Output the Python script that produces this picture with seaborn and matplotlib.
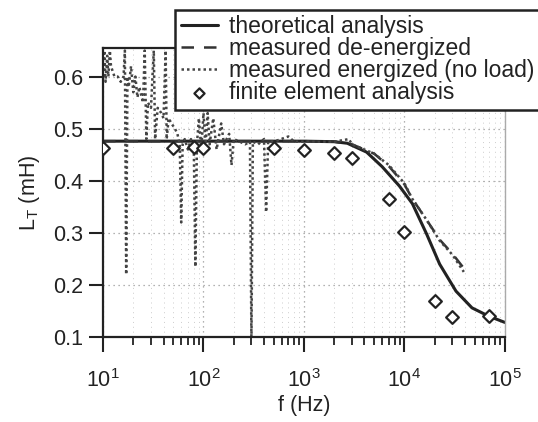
import numpy as np
import pandas as pd
import matplotlib
matplotlib.use("Agg")
import matplotlib.pyplot as plt
from matplotlib.ticker import LogLocator, FixedLocator, NullFormatter
import seaborn as sns

# --- theoretical analysis (solid) ---
f_theory = [10, 100, 1000, 2000, 2700, 4200, 6000, 8900, 12000, 16600,
            22400, 32600, 47000, 69000, 100000]
L_theory = [0.476, 0.476, 0.476, 0.475, 0.472, 0.455, 0.427, 0.39, 0.356, 0.298,
            0.24, 0.188, 0.156, 0.14, 0.128]

# --- measured de-energized (dashed) ---
f_deen = [10, 100, 1000, 2000, 3000, 5000, 7000, 10000, 12000, 16600,
          22400, 30000, 39000]
L_deen = [0.476, 0.476, 0.476, 0.475, 0.47, 0.452, 0.428, 0.393, 0.365, 0.325,
          0.287, 0.26, 0.232]

# --- measured energized, no load (dotted, noisy) ---
f_en = [10, 10.3, 10.6, 11, 11.3, 11.7, 12, 13, 14, 15, 16, 16.5, 17, 17.5,
        18, 19, 20, 21, 22, 23, 25, 26, 27, 28, 30, 32, 33, 35, 38, 40,
        42, 43, 45, 48, 52, 55, 58, 60, 62, 65, 70, 75, 80, 83, 86, 90,
        95, 100, 105, 110, 115, 125, 135, 150, 160, 180, 190, 200, 230, 260,
        290, 300, 310, 350, 400, 420, 440, 500, 700, 800, 1000, 2000, 2800, 3000,
        5000, 7000, 10000, 12000, 16600, 22400, 30000, 39000]
L_en = [0.60, 0.65, 0.59, 0.64, 0.60, 0.65, 0.62, 0.60, 0.60, 0.59, 0.60, 0.65, 0.22, 0.60,
        0.58, 0.62, 0.57, 0.60, 0.56, 0.58, 0.55, 0.65, 0.48, 0.55, 0.54, 0.65, 0.48, 0.54, 0.53, 0.52,
        0.65, 0.48, 0.52, 0.51, 0.50, 0.49, 0.47, 0.32, 0.47, 0.48, 0.46, 0.48, 0.47, 0.235, 0.47, 0.52,
        0.46, 0.53, 0.47, 0.53, 0.47, 0.52, 0.46, 0.51, 0.47, 0.49, 0.43, 0.48, 0.475, 0.47,
        0.475, 0.09, 0.475, 0.47, 0.48, 0.34, 0.475, 0.475, 0.485, 0.475, 0.475, 0.475, 0.48, 0.47,
        0.452, 0.43, 0.395, 0.365, 0.325, 0.285, 0.258, 0.225]

# --- finite element analysis (diamonds) ---
f_fea = [10, 50, 80, 100, 500, 1000, 2000, 3000, 7000, 10000, 20000, 30000, 70000]
L_fea = [0.463, 0.462, 0.465, 0.462, 0.463, 0.46, 0.454, 0.444, 0.365, 0.302, 0.17, 0.139, 0.14]

sns.set_theme(style="ticks")
plt.rcParams['font.family'] = ['Liberation Sans', 'DejaVu Sans']
plt.rcParams['mathtext.fontset'] = 'custom'
plt.rcParams['mathtext.rm'] = 'Liberation Sans'
plt.rcParams['mathtext.it'] = 'Liberation Sans:italic'

ink = '#222222'
fig = plt.figure(figsize=(5.38, 4.22), dpi=100)
ax = fig.add_axes([0.1915, 0.2014, 0.747, 0.685])

sns.lineplot(x=f_theory, y=L_theory, ax=ax, color=ink, lw=2.2,
             label='theoretical analysis', sort=False, estimator=None)
sns.lineplot(x=f_deen, y=L_deen, ax=ax, color='#333333', lw=1.8,
             linestyle=(0, (5, 4)), label='measured de-energized', sort=False, estimator=None)
sns.lineplot(x=f_en, y=L_en, ax=ax, color='#444444', lw=1.8,
             linestyle=(0, (1, 1.2)), label='measured energized (no load)',
             sort=False, estimator=None)
sns.scatterplot(x=f_fea, y=L_fea, ax=ax, marker='D', s=42, facecolor='white',
                edgecolor=ink, linewidth=1.6, label='finite element analysis', zorder=5)

ax.set_xscale('log')
ax.set_xlim(10, 1e5)
ax.set_ylim(0.1, 0.655)
ax.yaxis.set_major_locator(FixedLocator([0.1, 0.2, 0.3, 0.4, 0.5, 0.6]))
ax.set_yticklabels(['0.1', '0.2', '0.3', '0.4', '0.5', '0.6'])
ax.xaxis.set_major_locator(LogLocator(base=10, numticks=10))
ax.xaxis.set_minor_locator(LogLocator(base=10, subs=np.arange(2, 10), numticks=20))
ax.xaxis.set_minor_formatter(NullFormatter())

ax.grid(True, which='major', linestyle=(0, (1, 3)), color='#999999', lw=0.9)
ax.grid(True, which='minor', axis='x', linestyle=(0, (1, 4)), color='#cccccc', lw=0.7)

ax.tick_params(axis='y', which='major', direction='out', length=10, width=1.5, pad=4,
               labelsize=15.5, color=ink, labelcolor=ink)
ax.tick_params(axis='x', which='major', direction='out', length=11, width=1.5, pad=12,
               labelsize=15.5, color=ink, labelcolor=ink)
ax.tick_params(axis='x', which='minor', direction='out', length=6, width=1.3, color=ink)
for s in ax.spines.values():
    s.set_linewidth(1.6)
    s.set_color(ink)
ax.spines['right'].set_color('#aaaaaa')
ax.spines['right'].set_linewidth(1.0)

ax.set_xlabel('f (Hz)', fontsize=15.5, color=ink, labelpad=2)
ax.set_ylabel('L$_\\mathregular{T}$ (mH)', fontsize=15.5, color=ink, labelpad=8)

leg = ax.legend(loc='upper right', bbox_to_anchor=(1.004, 0.977), bbox_transform=fig.transFigure,
                fontsize=16.5, frameon=True, fancybox=False, framealpha=1, edgecolor=ink,
                labelspacing=-0.05, handlelength=1.6, handletextpad=0.5, borderpad=0.25,
                borderaxespad=0, markerscale=0.8)
leg.get_frame().set_linewidth(1.8)
for t in leg.get_texts():
    t.set_color(ink)

fig.savefig('out.png', dpi=100)
